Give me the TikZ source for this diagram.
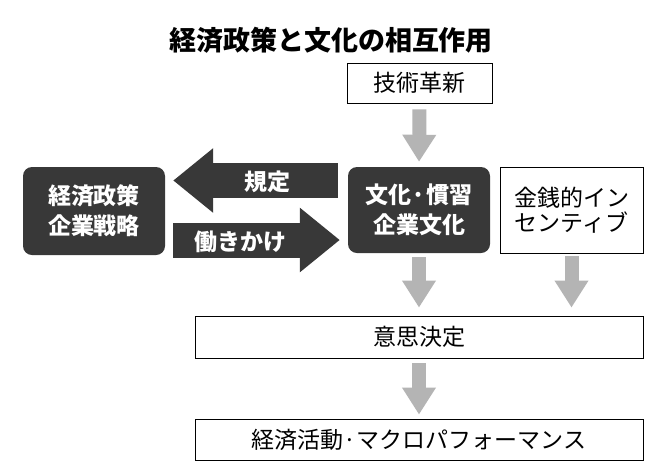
\documentclass[tikz,border=0pt]{standalone}
\usepackage{fontspec}
\newfontfamily\jp{Noto Sans CJK JP}
\usetikzlibrary{arrows.meta,calc}
\definecolor{dk}{HTML}{383838}
\definecolor{lg}{HTML}{B4B4B4}
\begin{document}
\begin{tikzpicture}[x=1pt,y=-1pt,
 wbox/.style={draw=black, line width=0.8pt, fill=white, inner sep=0pt, font=\jp\fontsize{23}{25}\selectfont, align=center},
 dbox/.style={fill=dk, rounded corners=9pt, text=white, inner sep=0pt, font=\jp\bfseries\fontsize{23}{30}\selectfont, align=center},
 garrow/.style={draw=lg, line width=14pt, -{Triangle[width=32pt,length=27pt]}},
 barrow/.style={draw=dk, line width=35pt, -{Triangle[width=62pt,length=40pt]}},
 albl/.style={text=white, font=\jp\bfseries\fontsize{23}{25}\selectfont, inner sep=0pt}]
\useasboundingbox[fill=white] (0,0) rectangle (662,475);

\node[font=\jp\bfseries\fontsize{27}{30}\selectfont, inner sep=0pt] (title) at (331,40) {経済政策と文化の相互作用};

\node[wbox, minimum width=145pt, minimum height=40pt] (tech) at (419.5,83) {技術革新};
\node[dbox, minimum width=142pt, minimum height=88pt] (pol) at (94,211) {経済政策\\企業戦略};
\node[dbox, minimum width=142pt, minimum height=86pt] (cult) at (419,210) {文化·慣習\\企業文化};
\node[wbox, minimum width=143pt, minimum height=86pt] (money) at (571.5,210) {金銭的イン\\センティブ};
\node[wbox, minimum width=448pt, minimum height=42pt] (dec) at (419,337) {意思決定};
\node[wbox, minimum width=448pt, minimum height=41pt] (econ) at (419,439.5) {経済活動·マクロパフォーマンス};

% gray flow arrows
\draw[garrow, shorten <=6pt, shorten >=5pt] (tech.south) -- (cult.north);
\draw[garrow, shorten <=4pt, shorten >=8pt] (cult.south) -- (dec.north -| cult.south);
\draw[garrow, shorten <=3pt, shorten >=8pt] (money.south) -- (dec.north -| money.south);
\draw[garrow, shorten <=5pt, shorten >=4pt] (dec.south -| cult.south) -- (econ.north -| cult.south);

% block arrows
\coordinate (ky) at (0,180.5);
\coordinate (hy) at (0,240);
\draw[barrow, shorten <=10pt, shorten >=8pt] (cult.west |- ky) -- (pol.east |- ky);
\draw[barrow, shorten <=8pt, shorten >=8pt] (pol.east |- hy) -- (cult.west |- hy);
\node[albl] (kitei) at (267,182) {規定};
\node[albl] (hata) at (240,242) {働きかけ};
\end{tikzpicture}
\end{document}
